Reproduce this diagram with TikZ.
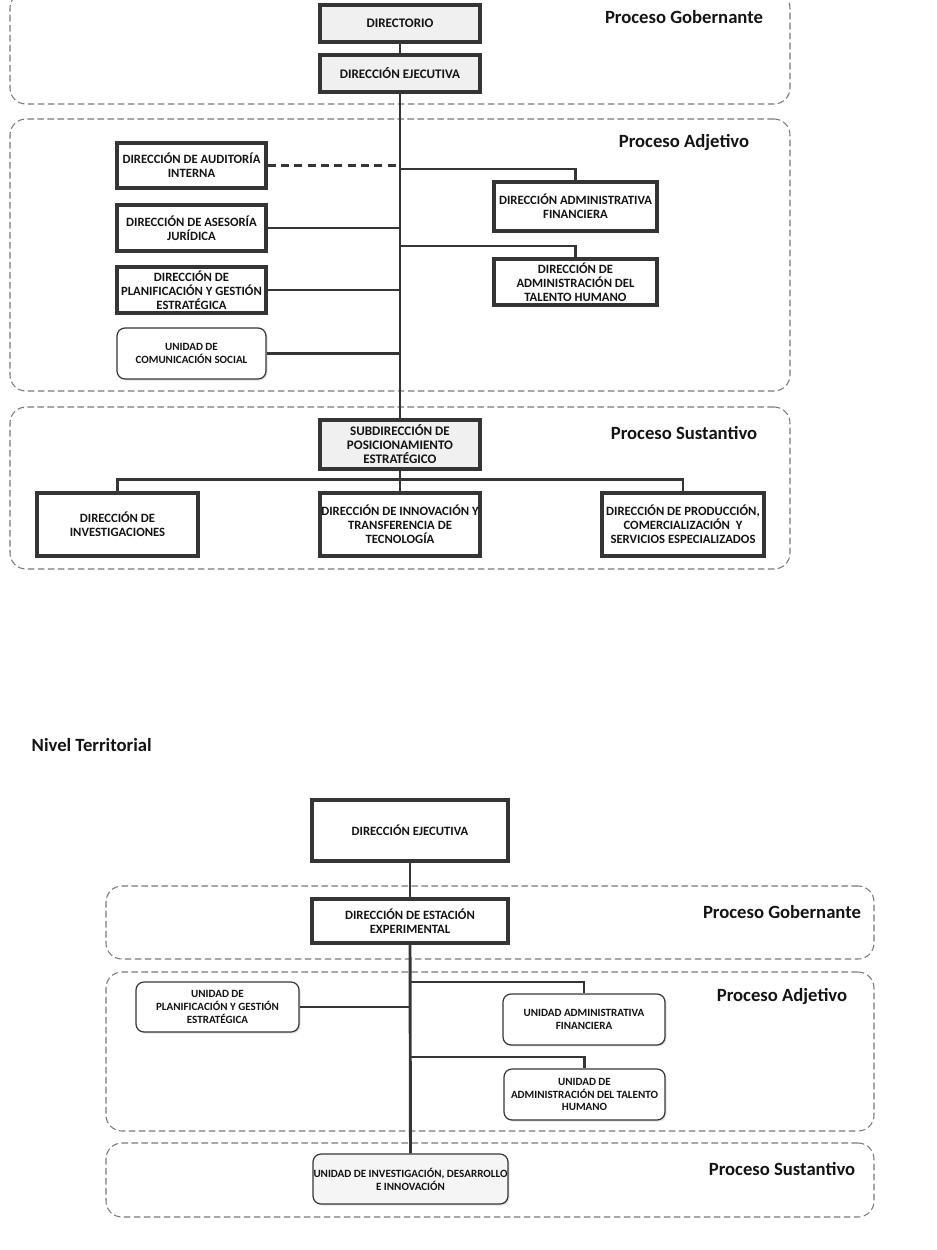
\documentclass[tikz,border=0pt]{standalone}
\usepackage{fontspec}
\setmainfont{Carlito}
\usetikzlibrary{fit,shadows}
\definecolor{boxc}{HTML}{353535}
\definecolor{regc}{HTML}{7A7A7A}
\definecolor{txtc}{HTML}{141414}
\newcommand\orgbox[7]{%
  \pgfmathsetmacro\obcx{(#3+#5)/2}%
  \pgfmathsetmacro\obcy{(#4+#6)/2}%
  \pgfmathsetmacro\obww{(#5-#3)*0.75}%
  \pgfmathsetmacro\obhh{(#6-#4)*0.75}%
  \node[#1,minimum width=\obww pt,minimum height=\obhh pt] (#2) at (\obcx,\obcy) {#7};}
\begin{document}
\begin{tikzpicture}[x=0.75pt,y=-0.75pt,
  every node/.style={text=txtc},
  shad/.style={drop shadow={opacity=0.22,shadow xshift=1.2pt,shadow yshift=-1.2pt}},
  thickbox/.style={draw=boxc,line width=2.6pt,fill=white,inner sep=0pt,align=center,
    font=\bfseries\fontsize{9.5}{10.5}\selectfont,shad},
  graybox/.style={thickbox,line width=2.9pt,fill=gray!12,font=\bfseries\fontsize{9.8}{10.5}\selectfont},
  bthick/.style={thickbox},
  roundbox/.style={draw=boxc,line width=0.9pt,rounded corners=6pt,fill=white,inner sep=0pt,
    align=center,font=\bfseries\fontsize{8.3}{9.6}\selectfont,shad},
  region/.style={draw=regc,line width=0.8pt,dash pattern=on 5pt off 2.5pt,
    rounded corners=12pt,inner sep=0pt},
  lbl/.style={font=\bfseries\fontsize{14}{16}\selectfont},
  conn/.style={draw=boxc,line width=2.2pt},
  thinconn/.style={draw=boxc,line width=1.6pt},
  dconn/.style={conn,dash pattern=on 6pt off 4pt}]
\useasboundingbox (0,0) rectangle (936,1250);

% ---------- upper chart: regions ----------
\node[region,fit={(10,-8) (790,104)}] (reg1) {};
\node[region,fit={(10,119) (790,391)}] (reg2) {};
\node[region,fit={(10,407) (790,569)}] (reg3) {};
\node[lbl] (lg1) at (684,17) {Proceso Gobernante};
\node[lbl] (la1) at (684,143) {Proceso Adjetivo};
\node[lbl] (ls1) at (684,433) {Proceso Sustantivo};

% ---------- upper chart: boxes ----------
\orgbox{graybox}{dir}{320}{5}{480}{42}{DIRECTORIO}
\orgbox{graybox}{ejec}{320}{55}{480}{92}{DIRECCIÓN EJECUTIVA}
\orgbox{thickbox}{aud}{117}{143}{266}{188}{DIRECCIÓN DE AUDITORÍA\\INTERNA}
\orgbox{thickbox}{ase}{117}{205}{266}{251}{DIRECCIÓN DE ASESORÍA\\JURÍDICA}
\orgbox{thickbox}{pla}{117}{267}{266}{313}{DIRECCIÓN DE\\PLANIFICACIÓN Y GESTIÓN\\ESTRATÉGICA}
\orgbox{roundbox}{com}{117}{328}{266}{379}{UNIDAD DE\\COMUNICACIÓN SOCIAL}
\orgbox{thickbox}{fin}{494}{182}{657}{231}{DIRECCIÓN ADMINISTRATIVA\\FINANCIERA}
\orgbox{thickbox}{tal}{494}{259}{657}{305}{DIRECCIÓN DE\\ADMINISTRACIÓN DEL\\TALENTO HUMANO}
\orgbox{graybox}{sub}{320}{420}{480}{469}{SUBDIRECCIÓN DE\\POSICIONAMIENTO\\ESTRATÉGICO}
\orgbox{thickbox}{inv}{37}{493}{198}{556}{DIRECCIÓN DE\\INVESTIGACIONES}
\orgbox{thickbox}{inn}{320}{493}{480}{556}{DIRECCIÓN DE INNOVACIÓN Y\\TRANSFERENCIA DE\\TECNOLOGÍA}
\orgbox{thickbox}{pro}{602}{493}{764}{556}{DIRECCIÓN DE PRODUCCIÓN,\\COMERCIALIZACIÓN\ \ Y\\SERVICIOS ESPECIALIZADOS}

% ---------- upper chart: connectors ----------
\coordinate (ja) at (400,169);
\coordinate (jb) at (400,246);
\draw[conn] (dir.south) -- (ejec.north);
\draw[conn] (ejec.south) -- (sub.north);
\draw[dconn] (aud.east) -- (aud.east -| ejec.south);
\draw[conn] (ja) -| (fin.north);
\draw[conn] (ase.east) -- (ase.east -| ejec.south);
\draw[conn] (jb) -| (tal.north);
\draw[conn] (pla.east) -- (pla.east -| ejec.south);
\draw[conn] (com.east) -- (com.east -| ejec.south);
\draw[conn] (sub.south) -- (inn.north);
\draw[conn] (inv.north) -- ++(0,-12) -| (pro.north);

% ---------- lower chart ----------
\node[lbl,anchor=west] (nt) at (27,745) {Nivel Territorial};
\node[region,fit={(106,886) (874,959)}] (breg1) {};
\node[region,fit={(106,972) (874,1131)}] (breg2) {};
\node[region,fit={(106,1143) (874,1217)}] (breg3) {};
\node[lbl] (lg2) at (782,912) {Proceso Gobernante};
\node[lbl] (la2) at (782,997) {Proceso Adjetivo};
\node[lbl] (ls2) at (782,1169) {Proceso Sustantivo};

\orgbox{bthick}{bejec}{312}{800}{508}{861}{DIRECCIÓN EJECUTIVA}
\orgbox{bthick}{best}{312}{899}{508}{943}{DIRECCIÓN DE ESTACIÓN\\EXPERIMENTAL}
\orgbox{roundbox}{bpla}{136}{982}{299}{1032}{UNIDAD DE\\PLANIFICACIÓN Y GESTIÓN\\ESTRATÉGICA}
\orgbox{roundbox}{bfin}{503}{994}{665}{1045}{UNIDAD ADMINISTRATIVA\\FINANCIERA}
\orgbox{roundbox}{btal}{504}{1069}{665}{1120}{UNIDAD DE\\ADMINISTRACIÓN DEL TALENTO\\HUMANO}
\orgbox{roundbox,fill=gray!8}{binv}{313}{1154}{508}{1204}{UNIDAD DE INVESTIGACIÓN, DESARROLLO\\E INNOVACIÓN}

\coordinate (jc) at (410,982);
\coordinate (jd) at (410,1057);
\draw[conn] (bejec.south) -- (best.north);
\draw[conn] (best.south) -- (binv.north);
\draw[conn] (jc) -| (bfin.north);
\draw[conn] (jd) -| (btal.north);
\draw[thinconn] (bpla.east) -- (bpla.east -| best.south);
\end{tikzpicture}
\end{document}
